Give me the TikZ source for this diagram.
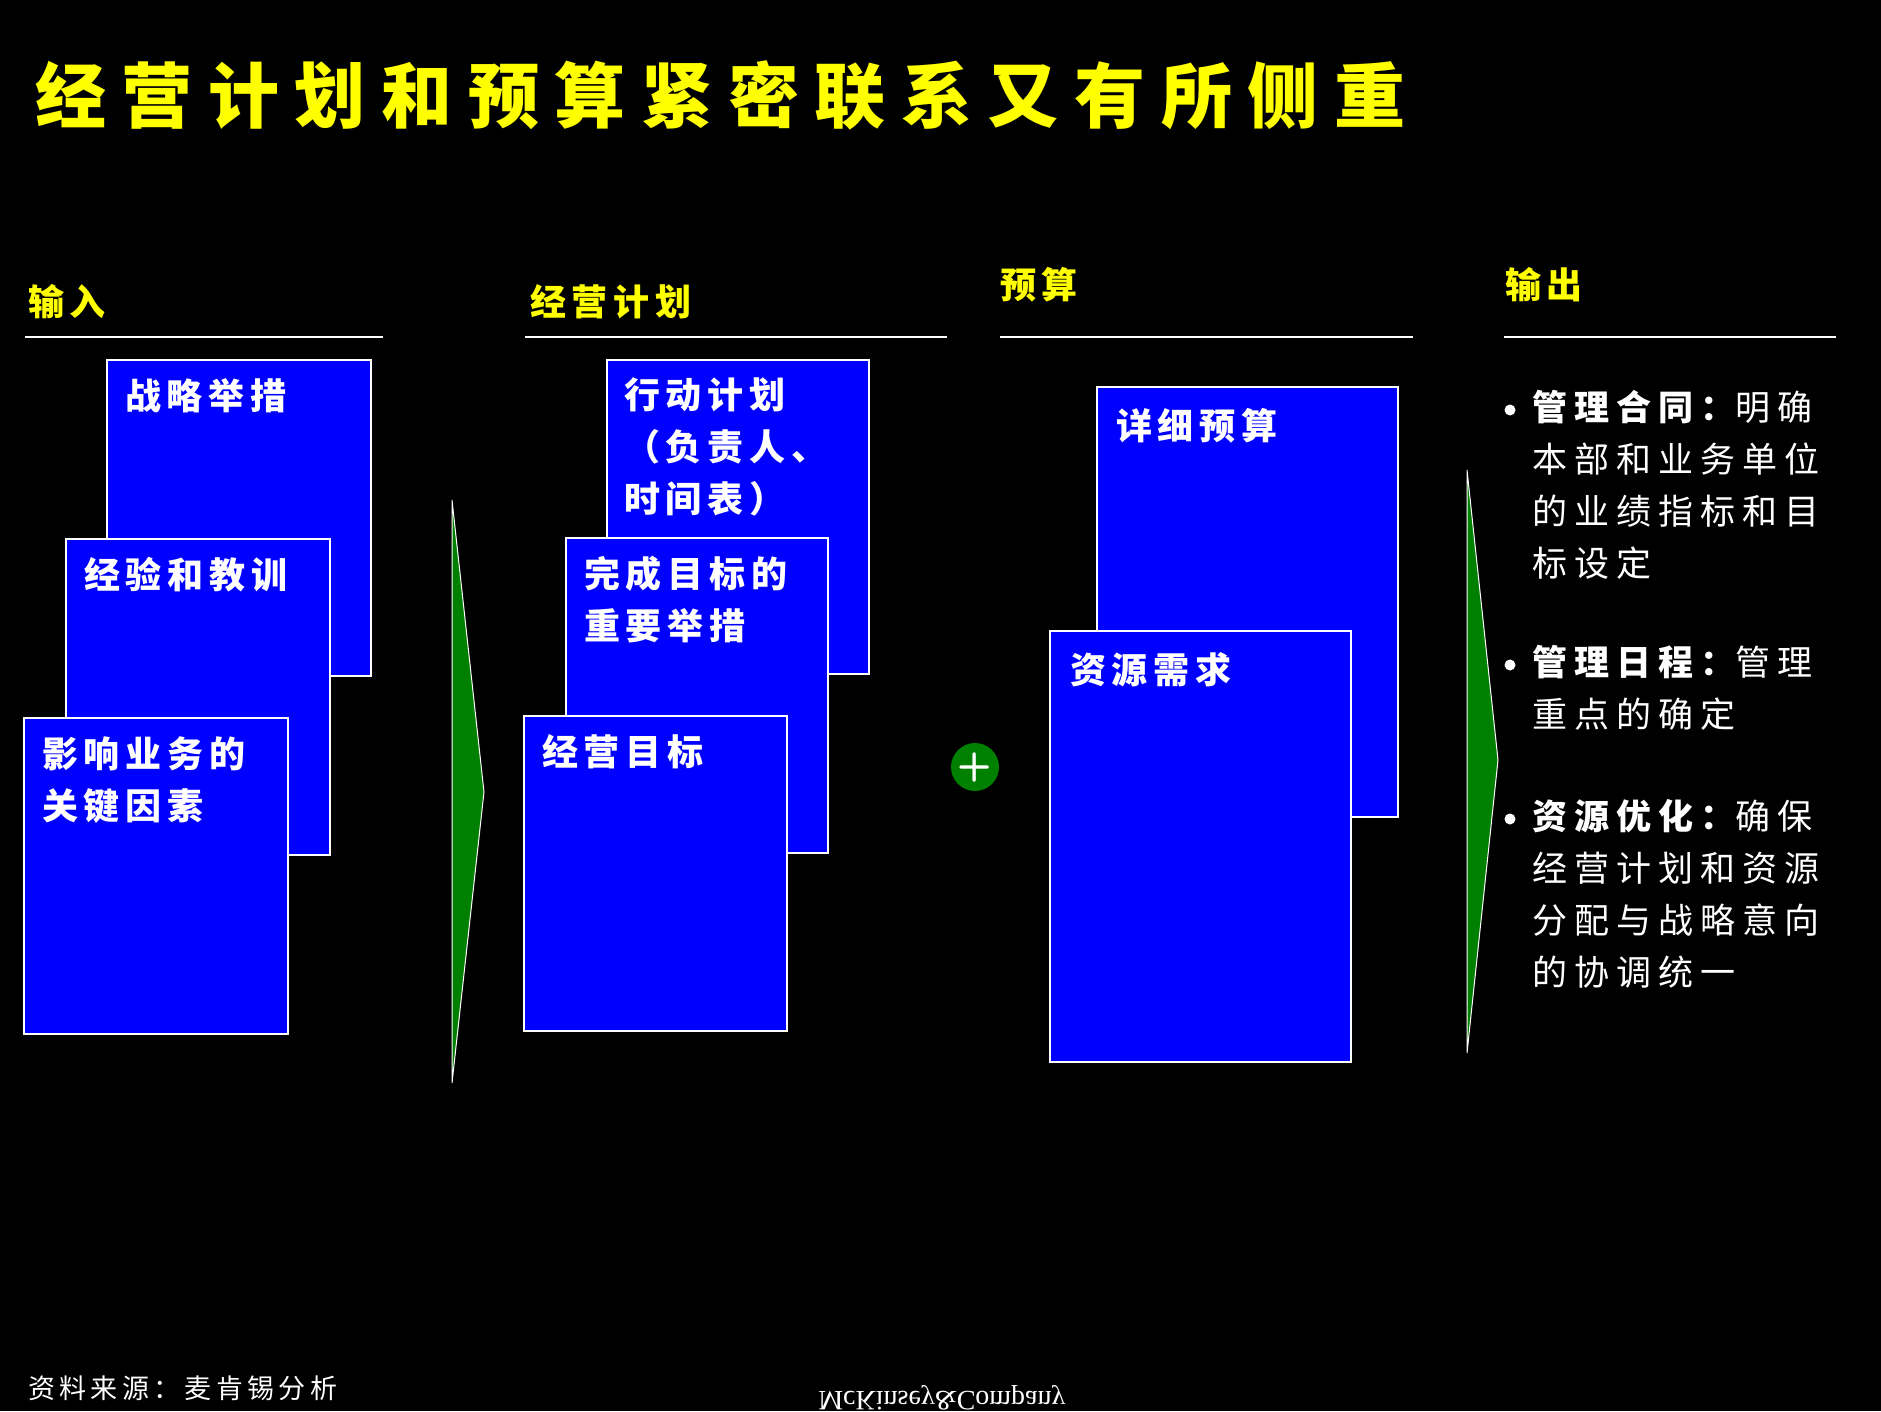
\documentclass[tikz,border=0pt]{standalone}
\usepackage{fontspec}
\newfontfamily\cjk[LetterSpace=16]{Noto Sans CJK SC}
\newfontfamily\cjkb[LetterSpace=20]{Noto Sans CJK SC}
\newfontfamily\cjkt[LetterSpace=22]{Noto Sans CJK SC}
\setmainfont{Liberation Serif}
\definecolor{ttl}{RGB}{255,255,0}
\definecolor{bx}{RGB}{0,0,255}
\definecolor{gr}{RGB}{0,128,0}
\tikzset{
 card/.style={fill=bx,draw=white,line width=2.5pt},
 cardtxt/.style={anchor=north west,align=left,text=white,font=\cjk\bfseries\fontsize{36}{52}\selectfont,inner sep=0pt},
 hdr/.style={anchor=west,text=ttl,font=\cjk\bfseries\fontsize{36}{40}\selectfont,inner sep=0pt},
 rule/.style={draw=white,line width=2pt},
 tri/.style={fill=gr,draw=white,line width=1pt},
 bl/.style={anchor=north west,align=left,text=white,font=\cjkb\fontsize{35}{52}\selectfont,inner sep=0pt},
}
\begin{document}
\begin{tikzpicture}[x=1pt,y=-1pt]
\fill[black] (0,0) rectangle (1881,1411);
\useasboundingbox (0,0) rectangle (1881,1411);
\node[anchor=west,text=ttl,inner sep=0pt,font=\cjkt\bfseries\fontsize{71}{80}\selectfont] (title) at (35,95) {经营计划和预算紧密联系又有所侧重};
% headers
\node[hdr] (h1) at (28,302) {输入};
\node[hdr] (h2) at (530,302) {经营计划};
\node[hdr] (h3) at (1000,285) {预算};
\node[hdr] (h4) at (1505,285) {输出};
\draw[rule] (25,337) -- (383,337);
\draw[rule] (525,337) -- (947,337);
\draw[rule] (1000,337) -- (1413,337);
\draw[rule] (1504,337) -- (1836,337);
% input
\draw[card] (107,360) rectangle (371,676);
\node[cardtxt] (a1) at (125,378) {战略举措};
\draw[card] (66,539) rectangle (330,855);
\node[cardtxt] (a2) at (84,557) {经验和教训};
\draw[card] (24,718) rectangle (288,1034);
\node[cardtxt] (a3) at (42,736) {影响业务的\\关键因素};
% plan
\draw[card] (607,360) rectangle (869,674);
\node[cardtxt] (b1) at (624,378) {行动计划\\（负责人、\\时间表）};
\draw[card] (566,538) rectangle (828,853);
\node[cardtxt] (b2) at (584,556) {完成目标的\\重要举措};
\draw[card] (524,716) rectangle (787,1031);
\node[cardtxt] (b3) at (542,734) {经营目标};
% budget
\draw[card] (1097,387) rectangle (1398,817);
\node[cardtxt] (c1) at (1116,408) {详细预算};
\draw[card] (1050,631) rectangle (1351,1062);
\node[cardtxt] (c2) at (1070,652) {资源需求};
% arrows
\draw[tri] (452,500) -- (484,792) -- (452,1083) -- cycle;
\draw[tri] (1467,470) -- (1498,760) -- (1467,1053) -- cycle;
\node[circle,fill=gr,minimum size=48pt,inner sep=0pt,text=white,font=\sffamily\bfseries\fontsize{40}{40}\selectfont] (plus) at (975,767) {+};
% bullets
\foreach \y in {410,665,819} \fill[white] (1510,\y) circle (5.5);
\node[bl] (r1) at (1532,390) {{\bfseries 管理合同：}明确\\本部和业务单位\\的业绩指标和目\\标设定};
\node[bl] (r2) at (1532,645) {{\bfseries 管理日程：}管理\\重点的确定};
\node[bl] (r3) at (1532,799) {{\bfseries 资源优化：}确保\\经营计划和资源\\分配与战略意向\\的协调统一};
% footer
\node[anchor=west,text=white,inner sep=0pt,font=\cjk\fontsize{27}{30}\selectfont] (src) at (28,1388) {资料来源：麦肯锡分析};
\node[text=white,inner sep=0pt,yscale=-1,font=\fontsize{28}{30}\selectfont] (mck) at (942,1398) {McKinsey\&Company};
\end{tikzpicture}
\end{document}
